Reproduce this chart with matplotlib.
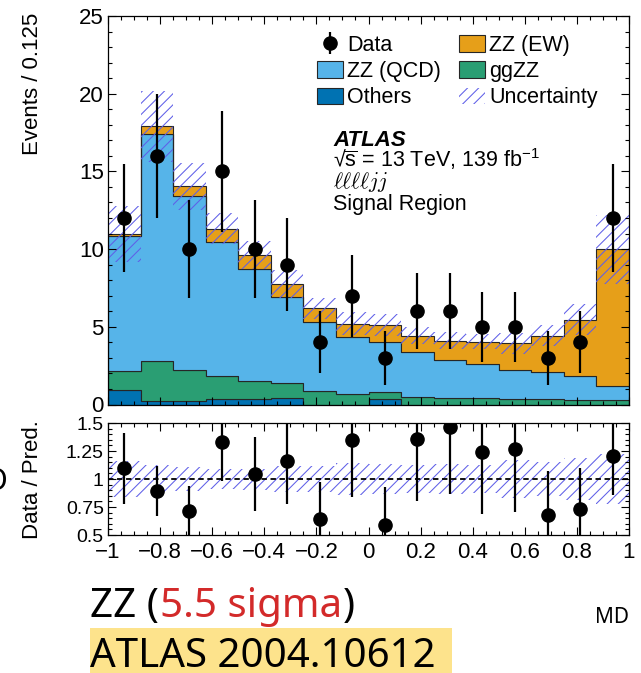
import numpy as np
import matplotlib
matplotlib.use("Agg")
import matplotlib.pyplot as plt
from matplotlib.patches import Patch, Rectangle
from matplotlib.ticker import MultipleLocator, FixedLocator, FuncFormatter

# ---------------- data ----------------
bin_low = -1.0
bin_width = 0.125
n_bins = 16

data_counts = [12, 16, 10, 15, 10, 9, 4, 7, 3, 6, 6, 5, 5, 3, 4, 12]
data_err = [3.46, 4.0, 3.16, 3.87, 3.16, 3.0, 2.0, 2.65, 1.73, 2.45, 2.45, 2.24, 2.24, 1.73, 2.0, 3.46]

others = [0.95, 0.25, 0.25, 0.35, 0.35, 0.45, 0.0, 0.0, 0.35, 0.0, 0.0, 0.0, 0.0, 0.0, 0.0, 0.0]
ggzz = [1.23, 2.53, 2.0, 1.51, 1.17, 0.94, 0.84, 0.69, 0.44, 0.47, 0.45, 0.4, 0.35, 0.35, 0.3, 0.3]
zz_qcd = [8.65, 14.62, 11.15, 8.61, 7.22, 5.51, 4.48, 3.63, 3.25, 2.89, 2.44, 2.23, 1.85, 1.77, 1.56, 0.88]
zz_ew = [0.13, 0.5, 0.64, 0.83, 0.86, 0.86, 0.86, 0.88, 1.06, 1.06, 1.21, 1.41, 1.73, 2.31, 3.59, 8.8]
uncertainty = [1.8, 2.3, 1.5, 1.0, 0.9, 0.9, 0.7, 0.74, 0.7, 0.55, 0.55, 0.5, 0.65, 0.66, 1.0, 2.2]

component_labels = ["Others", "ggZZ", "ZZ (QCD)", "ZZ (EW)"]
component_colors = ["#0072B2", "#2A9E73", "#56B4E9", "#E69F19"]

x_ticks = [-1, -0.8, -0.6, -0.4, -0.2, 0, 0.2, 0.4, 0.6, 0.8, 1]
y_ticks_main = [0, 5, 10, 15, 20, 25]
y_ticks_ratio = [0.5, 0.75, 1, 1.25, 1.5]

# ---------------- style ----------------
plt.rcParams["font.family"] = ["Liberation Sans", "DejaVu Sans"]
plt.rcParams["mathtext.fontset"] = "custom"
plt.rcParams["mathtext.rm"] = "Liberation Sans"
plt.rcParams["mathtext.it"] = "Liberation Sans:italic"
plt.rcParams["mathtext.bf"] = "Liberation Sans:bold"
plt.rcParams["hatch.linewidth"] = 0.75

W, H = 641, 673
fig = plt.figure(figsize=(W / 100, H / 100), dpi=100)


def fx(px):
    return px / W


def fy(py):
    return 1 - py / H


ax = fig.add_axes([fx(108), fy(404.5), fx(629) - fx(108), fy(16) - fy(404.5)])
rax = fig.add_axes([fx(108), fy(535), fx(629) - fx(108), fy(423) - fy(535)])

edges = bin_low + bin_width * np.arange(n_bins + 1)
centers = 0.5 * (edges[:-1] + edges[1:])

comps = [np.array(others), np.array(ggzz), np.array(zz_qcd), np.array(zz_ew)]
base = np.zeros(n_bins)
edge_col = "#262626"
for vals, col in zip(comps, component_colors):
    top = base + vals
    ax.stairs(top, edges, baseline=base, fill=True, facecolor=col,
              edgecolor=edge_col, linewidth=0.8, zorder=1)
    base = top
total = base
unc = np.array(uncertainty)

hatch_col = "#5F5FE8"
ax.stairs(total + unc, edges, baseline=total - unc, fill=True, facecolor="none",
          edgecolor=hatch_col, hatch="///", linewidth=0, zorder=1.2)

h_data = ax.errorbar(centers, data_counts, yerr=data_err, fmt="o", color="k",
                     ms=9.5, elinewidth=1.6, capsize=0, zorder=5)

ax.set_xlim(-1, 1)
ax.set_ylim(0, 25)
ax.yaxis.set_major_locator(FixedLocator(y_ticks_main))
ax.yaxis.set_minor_locator(MultipleLocator(1))
ax.xaxis.set_major_locator(FixedLocator(x_ticks))
ax.xaxis.set_minor_locator(MultipleLocator(0.05))
ax.tick_params(labelbottom=False)

# ratio panel
ratio = np.array(data_counts) / total
ratio_err = np.array(data_err) / total
rel_unc = unc / total
rax.stairs(1 + rel_unc, edges, baseline=1 - rel_unc, fill=True, facecolor="none",
           edgecolor=hatch_col, hatch="///", linewidth=0, zorder=1.2)
rax.axhline(1, color="k", ls=(0, (3, 2)), lw=1.3, zorder=2)
rax.errorbar(centers, ratio, yerr=ratio_err, fmt="o", color="k", ms=9.5,
             elinewidth=1.6, capsize=0, zorder=5)
rax.set_xlim(-1, 1)
rax.set_ylim(0.5, 1.5)
rax.yaxis.set_major_locator(FixedLocator(y_ticks_ratio))
rax.yaxis.set_minor_locator(MultipleLocator(0.05))
rax.xaxis.set_major_locator(FixedLocator(x_ticks))
rax.xaxis.set_minor_locator(MultipleLocator(0.05))
rax.yaxis.set_major_formatter(FuncFormatter(lambda v, p: f"{v:g}"))
rax.xaxis.set_major_formatter(FuncFormatter(lambda v, p: f"{v:g}".replace("-", "\u2212")))

for a in (ax, rax):
    a.tick_params(which="both", direction="in", top=True, right=True, width=0.8)
    a.tick_params(which="major", length=6)
    a.tick_params(which="minor", length=3)
    for s in a.spines.values():
        s.set_linewidth(0.9)
ax.tick_params(axis="y", labelsize=16, pad=3)
rax.tick_params(axis="y", labelsize=14, pad=3)
rax.tick_params(axis="x", labelsize=16, pad=5)

# legend
p_oth = Patch(facecolor=component_colors[0], edgecolor=edge_col, linewidth=0.8)
p_gg = Patch(facecolor=component_colors[1], edgecolor=edge_col, linewidth=0.8)
p_qcd = Patch(facecolor=component_colors[2], edgecolor=edge_col, linewidth=0.8)
p_ew = Patch(facecolor=component_colors[3], edgecolor=edge_col, linewidth=0.8)
p_unc = Patch(facecolor="none", edgecolor=hatch_col, hatch="///", linewidth=0)
ax.legend([h_data, p_qcd, p_oth, p_ew, p_gg, p_unc],
          ["Data", "ZZ (QCD)", "Others", "ZZ (EW)", "ggZZ", "Uncertainty"],
          ncol=2, loc="upper left", bbox_to_anchor=((317 - 108) / 521, (404.5 - 35) / 388.5),
          frameon=False, fontsize=15.5, handlelength=1.2, handleheight=0.8,
          handletextpad=0.2, columnspacing=0.85, labelspacing=0.24,
          borderpad=0, borderaxespad=0)

# ATLAS labels
fig.text(fx(333), fy(146), "ATLAS", fontsize=16, fontweight="bold", fontstyle="italic", va="baseline")
fig.text(fx(333), fy(167), "\u221a" + r"$\overline{\mathrm{s}}$ = 13 TeV, 139 fb$^{-1}$",
         fontsize=15.5, va="baseline")
fig.text(fx(333), fy(188), r"$\ell\ell\ell\ell jj$", fontsize=15.5, va="baseline",
         math_fontfamily="cm")
fig.text(fx(333), fy(210), "Signal Region", fontsize=15.5, va="baseline")

# axis labels
fig.text(fx(33), fy(13), "Events / 0.125", rotation=90, ha="center", va="top", fontsize=16)
fig.text(fx(33), fy(480), "Data / Pred.", rotation=90, ha="center", va="center", fontsize=16)

# stray glyph at left edge
fig.text(fx(7), fy(482), "O", ha="right", va="center", fontsize=22, family="Noto Sans")

# bottom slide texts
fig.patches.append(Rectangle((fx(90), 0), fx(452) - fx(90), fy(628), transform=fig.transFigure,
                             facecolor="#FDE38C", edgecolor="none", zorder=0))
fig.text(fx(90), fy(667), "ATLAS 2004.10612", fontsize=29, family="Noto Sans",
         va="baseline", color="k")

fig.canvas.draw()
r = fig.canvas.get_renderer()
t1 = fig.text(fx(90), fy(617), "ZZ (", fontsize=29, family="Noto Sans", va="baseline", color="k")
bb = t1.get_window_extent(r)
t2 = fig.text(bb.x1 / W + 1 / W, fy(617), "5.5 sigma", fontsize=29, family="Noto Sans",
              va="baseline", color="#D32A2A")
bb2 = t2.get_window_extent(r)
fig.text(bb2.x1 / W + 1 / W, fy(617), ")", fontsize=29, family="Noto Sans", va="baseline", color="k")

fig.text(fx(595), fy(623), "MD", fontsize=15, family="Noto Sans", va="baseline", color="k")

fig.savefig("out.png", dpi=100)
